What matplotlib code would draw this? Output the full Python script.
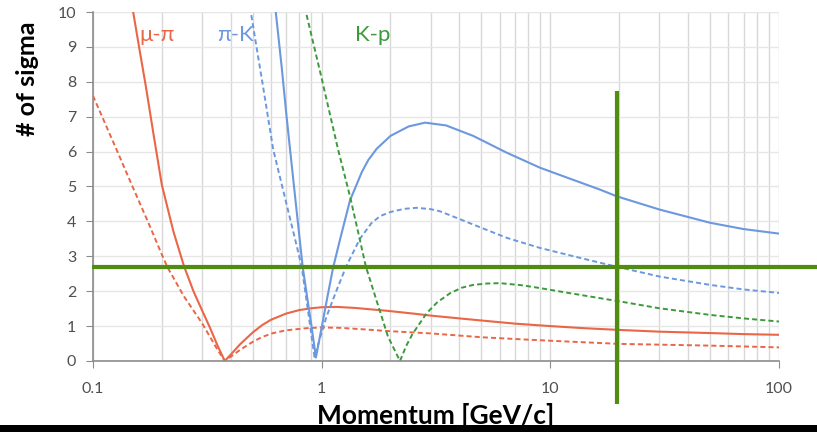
import matplotlib.pyplot as plt
from matplotlib.patches import Rectangle

plt.rcParams['font.family'] = ['Lato', 'DejaVu Sans']

# separation (number of sigma) vs momentum, read per curve
mu_pi_p = [0.14, 0.149, 0.16, 0.17, 0.185, 0.2, 0.225, 0.25, 0.275, 0.3, 0.325, 0.35, 0.377,
           0.4, 0.44, 0.5, 0.55, 0.6, 0.7, 0.8, 0.9, 1.0, 1.16, 1.4, 1.92, 2.5, 3.0, 4.0,
           5.0, 7.0, 10, 14, 20, 30, 50, 70, 100]
mu_pi_v = [11.2, 10.1, 8.9, 7.9, 6.4, 5.05, 3.7, 2.72, 2.0, 1.45, 0.95, 0.45, 0.0,
           0.18, 0.48, 0.82, 1.03, 1.18, 1.36, 1.46, 1.51, 1.54, 1.55, 1.52, 1.44, 1.36, 1.30, 1.22,
           1.16, 1.07, 1.0, 0.94, 0.89, 0.84, 0.80, 0.77, 0.75]

mu_pi_dash_p = [0.1, 0.125, 0.15, 0.175, 0.2, 0.212, 0.25, 0.3, 0.35, 0.377,
                0.4, 0.44, 0.5, 0.55, 0.614, 0.7, 0.86, 1.0, 1.2, 1.5, 1.92, 3.0, 5.0, 7.0,
                10, 20, 50, 100]
mu_pi_dash_v = [7.6, 6.15, 4.95, 3.95, 3.05, 2.68, 1.85, 1.08, 0.33, 0.0,
                0.12, 0.32, 0.55, 0.69, 0.8, 0.88, 0.94, 0.96, 0.95, 0.91, 0.86, 0.79, 0.68, 0.63,
                0.58, 0.49, 0.44, 0.39]

pi_k_p = [0.6, 0.63, 0.67, 0.7, 0.721, 0.77, 0.826, 0.87, 0.9, 0.944,
          1.0, 1.06, 1.12, 1.2, 1.33, 1.5, 1.6, 1.74, 2.0, 2.4, 2.83, 3.5, 4.6, 6.44, 9.0, 12,
          16.5, 19.5, 30, 50, 70, 100]
pi_k_v = [11.4, 10.0, 8.37, 7.1, 6.3, 4.55, 2.7, 1.7, 1.06, 0.1,
          0.96, 1.84, 2.65, 3.45, 4.6, 5.42, 5.76, 6.08, 6.45, 6.72, 6.83, 6.75, 6.45, 5.97, 5.54, 5.24,
          4.91, 4.72, 4.34, 3.96, 3.78, 3.65]

pi_k_dash_p = [0.47, 0.49, 0.52, 0.55, 0.614, 0.7, 0.76, 0.818, 0.88, 0.93,
               0.98, 1.05, 1.15, 1.28, 1.47, 1.65, 1.8, 2.0, 2.3, 2.6, 3.0, 3.29, 4.0, 4.6,
               6.44, 9.0, 13, 19.5, 30, 50, 70, 100]
pi_k_dash_v = [10.7, 10.0, 8.96, 8.0, 6.06, 4.53, 3.57, 2.7, 1.25, 0.12,
               0.62, 1.27, 1.95, 2.71, 3.5, 3.95, 4.15, 4.27, 4.36, 4.39, 4.35, 4.29, 4.07, 3.91,
               3.53, 3.24, 2.98, 2.70, 2.42, 2.18, 2.05, 1.95]

k_p_dash_p = [0.82, 0.853, 0.92, 1.0, 1.08, 1.18, 1.33, 1.45, 1.56, 1.75, 1.95, 2.2,
              2.35, 2.5, 2.88, 3.2, 3.64, 4.1, 4.6, 5.3, 6.03, 7.5, 9.0, 12, 16.5, 20, 30,
              50, 70, 100]
k_p_dash_v = [10.5, 10.0, 9.1, 8.1, 7.15, 6.06, 4.72, 3.64, 2.71, 1.67, 0.7, 0.0,
              0.45, 0.78, 1.37, 1.68, 1.94, 2.1, 2.18, 2.22, 2.23, 2.17, 2.09, 1.95, 1.80, 1.71, 1.51,
              1.32, 1.22, 1.13]

# marker lines: required separation and chosen momentum
sigma_cut = 2.68
p_cut = 19.5

x_ticks = [0.1, 1, 10, 100]
x_tick_labels = ['0.1', '1', '10', '100']
y_ticks = list(range(0, 11))

red = '#ea6646'
blue = '#6c98de'
green = '#3c9a3c'
dark_green = '#4f8c10'
dash = (0, (2.6, 1.6))

fig = plt.figure(figsize=(8.17, 4.32), dpi=100)
ax = fig.add_axes([0.1138, 0.1644, 0.8397, 0.8078])

ax.plot(mu_pi_p, mu_pi_v, color=red, lw=1.5)
ax.plot(mu_pi_dash_p, mu_pi_dash_v, color=red, lw=1.4, ls=dash)
ax.plot(pi_k_p, pi_k_v, color=blue, lw=1.5)
ax.plot(pi_k_dash_p, pi_k_dash_v, color=blue, lw=1.4, ls=dash)
ax.plot(k_p_dash_p, k_p_dash_v, color=green, lw=1.4, ls=dash)

ax.set_xscale('log')
ax.set_xlim(0.1, 100)
ax.set_ylim(0, 10)
ax.set_xticks(x_ticks)
ax.set_xticklabels(x_tick_labels)
ax.set_yticks(y_ticks)

ax.grid(which='major', axis='y', color='#e6e6e6', lw=1)
ax.grid(which='both', axis='x', color='#d8d8d8', lw=1)
ax.set_axisbelow(True)

for side in ['top', 'right']:
    ax.spines[side].set_visible(False)
for side in ['left', 'bottom']:
    ax.spines[side].set_color('#8c8c8c')
    ax.spines[side].set_linewidth(1.2)

ax.tick_params(axis='both', which='major', direction='out', length=5, color='#8c8c8c',
               labelcolor='#505050', labelsize=11.5)
ax.tick_params(axis='x', which='major', pad=10)
ax.tick_params(axis='y', which='major', pad=7)
ax.tick_params(axis='x', which='minor', length=0)

# curve names
ax.text(0.19, 9.34, 'μ-π', color=red, fontsize=16, ha='center', va='center')
ax.text(0.42, 9.34, 'π-K', color=blue, fontsize=16, ha='center', va='center')
ax.text(1.68, 9.34, 'K-p', color=green, fontsize=16, ha='center', va='center')

# thick cut lines, running past the axes
ax.plot([0.099, 150], [sigma_cut, sigma_cut], color=dark_green, lw=3,
        clip_on=False, solid_capstyle='butt', zorder=5)
ax.plot([p_cut, p_cut], [7.73, -1.24], color=dark_green, lw=3,
        clip_on=False, solid_capstyle='butt', zorder=5)

fig.text(28 / 817, 1 - 79 / 432, '# of sigma', rotation=90, fontsize=18,
         fontweight='bold', ha='center', va='center')
fig.text(436 / 817, 1 - 415 / 432, 'Momentum [GeV/c]', fontsize=19,
         fontweight='bold', ha='center', va='center')

fig.add_artist(Rectangle((0, 0), 1, 7 / 432, transform=fig.transFigure,
                         facecolor='black', edgecolor='none', zorder=10))

fig.savefig('out.png', dpi=100)
